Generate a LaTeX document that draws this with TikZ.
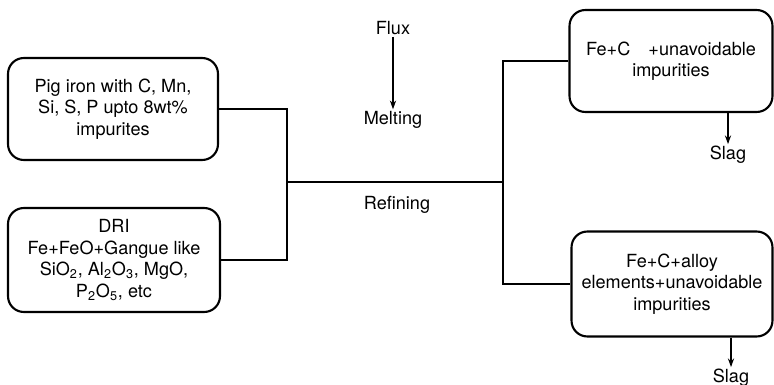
\documentclass[tikz,border=0pt]{standalone}
\usepackage{fontspec}
\setmainfont{TeX Gyre Heros}
\usetikzlibrary{arrows.meta,positioning}

\tikzset{
  stage/.style={draw,line width=1.2pt,rounded corners=9pt,align=center,
    inner sep=2pt,font=\fontsize{10.3}{12.2}\selectfont},
  lbl/.style={font=\fontsize{10.3}{12.2}\selectfont,inner sep=1pt},
  link/.style={line width=1.2pt},
  flow/.style={->,line width=0.8pt}
}

\begin{document}
\begin{tikzpicture}[>={Stealth[length=5pt,width=3.5pt]},x=0.02cm,y=-0.02cm]
\useasboundingbox (0,0) rectangle (774,385);
% charge materials
\node[stage,minimum width=4.2cm,minimum height=2.04cm] (pig) at (113,109)
  {Pig iron with C, Mn,\\Si, S, P upto 8wt\%\\impurites};
\node[stage,minimum width=4.24cm,minimum height=2.08cm] (dri) at (114,260)
  {DRI\\Fe+FeO+Gangue like\\SiO\textsubscript{2}, Al\textsubscript{2}O\textsubscript{3}, MgO,\\P\textsubscript{2}O\textsubscript{5}, etc};
% products
\node[stage,minimum width=4.06cm,minimum height=2.04cm] (plain) at (671,61)
  {Fe+C\quad+unavoidable\\impurities};
\node[stage,minimum width=4.02cm,minimum height=2.1cm] (alloy) at (672,284)
  {Fe+C+alloy\\elements+unavoidable\\impurities};
% process labels
\node[lbl] (flux)   at (393,28)  {Flux};
\node[lbl] (melt)   at (393,120) {Melting};
\node[lbl] (refine) at (397,205) {Refining};
\node[lbl] (slagA)  at (728,155) {Slag};
\node[lbl] (slagB)  at (731,378) {Slag};
\coordinate (jl) at (287,182);
\coordinate (jr) at (503,182);

\draw[link] (pig.east) -| (jl) |- (dri.east);
\draw[link] (jl) -- (jr);
\draw[link] (plain.west) -| (jr) |- (alloy.west);
\draw[flow] (flux) -- (melt);
\draw[flow] (plain.south -| slagA) -- (slagA);
\draw[flow] (alloy.south -| slagB) -- (slagB);
\end{tikzpicture}
\end{document}
